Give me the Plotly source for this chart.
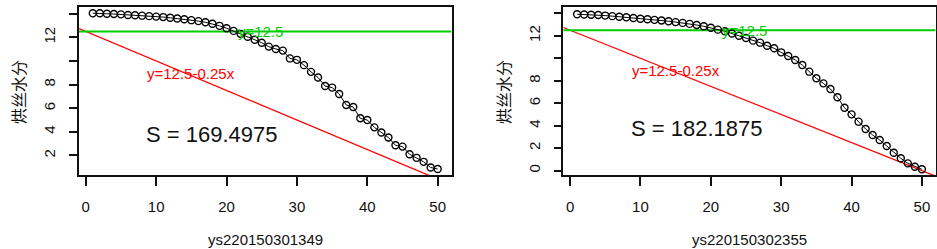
import plotly.graph_objects as go

# ---------------- data ----------------
x_idx = list(range(1, 51))

left_name = "ys220150301349"
left_vals = [14.05, 14.05, 14.0, 13.98, 13.95, 13.9, 13.87, 13.84, 13.8, 13.76,
             13.72, 13.66, 13.6, 13.54, 13.46, 13.38, 13.28, 13.15, 12.98, 12.78,
             12.55, 12.3, 12.05, 11.8, 11.55, 11.22, 11.02, 10.88, 10.22, 10.1,
             9.65, 9.08, 8.6, 7.88, 7.75, 7.21, 6.28, 6.1, 5.15, 5.0,
             4.38, 3.95, 3.52, 2.86, 2.75, 2.1, 1.8, 1.46, 0.98, 0.85]
left_S = "169.4975"

right_name = "ys220150302355"
right_vals = [13.92, 13.9, 13.88, 13.85, 13.8, 13.75, 13.7, 13.65, 13.58, 13.52,
              13.47, 13.42, 13.36, 13.3, 13.22, 13.15, 13.06, 12.96, 12.85, 12.72,
              12.55, 12.4, 12.2, 12.0, 11.8, 11.57, 11.39, 11.12, 10.89, 10.53,
              10.2, 9.85, 9.4, 8.81, 8.22, 7.77, 7.27, 6.53, 5.6, 5.01,
              4.36, 3.71, 3.17, 2.73, 2.19, 1.6, 1.1, 0.65, 0.35, 0.12]
right_S = "182.1875"

h_level = 12.5          # green horizontal line
line_a, line_b = 12.5, -0.25   # red line y = a + b x
y_title = "烘丝水分"
x_ticks = [0, 10, 20, 30, 40, 50]
left_yticks = [2, 4, 6, 8, 10, 12, 14]
left_ytext = ["2", "4", "6", "8", "", "12", ""]
right_yticks = [0, 2, 4, 6, 8, 10, 12, 14]
right_ytext = ["0", "2", "4", "6", "8", "", "12", ""]

# annotation anchor positions (data units)
green_lab = (24.8, 12.5)
red_lab = (15.0, 8.9)
s_lab = (18.0, 3.75)

# ---------------- layout constants ----------------
W, H = 937, 249
FONT = "Liberation Sans, Arial, sans-serif"
CJK = "Noto Sans CJK SC, sans-serif"
GREEN = "#00CD00"
RED = "#FF0000"
INK = "#111"

xr = [-0.96, 51.96]
panels = [
    dict(name=left_name, vals=left_vals, S=left_S, yr=[0.32, 14.6],
         yt=left_yticks, ytt=left_ytext, px=(79, 451.5), py=(6.7, 175.3), ytitle_x=18),
    dict(name=right_name, vals=right_vals, S=right_S, yr=[-0.385, 14.59],
         yt=right_yticks, ytt=right_ytext, px=(563.3, 935.7), py=(6.7, 175.0), ytitle_x=503),
]

fig = go.Figure()
layout = dict(width=W, height=H, margin=dict(l=0, r=0, t=0, b=0),
              paper_bgcolor="white", plot_bgcolor="white", showlegend=False,
              font=dict(family=FONT, size=15, color=INK))
annotations = []

for i, p in enumerate(panels):
    sfx = "" if i == 0 else str(i + 1)
    xa, ya = "x" + sfx, "y" + sfx
    # red abline
    fig.add_trace(go.Scatter(x=xr, y=[line_a + line_b * v for v in xr], mode="lines",
                             line=dict(color=RED, width=1.3), xaxis=xa, yaxis=ya,
                             hoverinfo="skip"))
    # green hline
    fig.add_trace(go.Scatter(x=xr, y=[h_level, h_level], mode="lines",
                             line=dict(color=GREEN, width=2), xaxis=xa, yaxis=ya,
                             hoverinfo="skip"))
    # data
    fig.add_trace(go.Scatter(x=x_idx, y=p["vals"], mode="lines+markers",
                             line=dict(color="black", width=1),
                             marker=dict(symbol="circle-open", size=7, color="black",
                                         line=dict(width=1.4)),
                             xaxis=xa, yaxis=ya))
    x0, x1 = p["px"]
    y0, y1 = p["py"]
    layout["xaxis" + sfx] = dict(domain=[x0 / W, x1 / W], range=xr, anchor=ya,
                                 tickvals=x_ticks, ticks="outside", ticklen=9, tickwidth=1.5,
                                 tickcolor="#111", showline=True, linecolor="#111", linewidth=1.6,
                                 mirror=True, showgrid=False, zeroline=False,
                                 ticklabelstandoff=8, tickfont=dict(size=15, color=INK))
    layout["yaxis" + sfx] = dict(domain=[(H - y1) / H, (H - y0) / H], range=p["yr"], anchor=xa,
                                 tickvals=p["yt"], ticktext=p["ytt"], ticks="outside", ticklen=8,
                                 tickwidth=1.5, tickcolor="#111", showline=True, linecolor="#111",
                                 linewidth=1.6, mirror=True, showgrid=False, zeroline=False,
                                 tickangle=-90, ticklabelstandoff=8,
                                 tickfont=dict(size=15, color=INK))
    # texts
    annotations.append(dict(x=green_lab[0], y=green_lab[1], xref=xa, yref=ya, text="y=12.5",
                            showarrow=False, font=dict(size=15, color=GREEN, family=FONT)))
    annotations.append(dict(x=red_lab[0], y=red_lab[1], xref=xa, yref=ya, text="y=12.5-0.25x",
                            showarrow=False, font=dict(size=15, color=RED, family=FONT)))
    annotations.append(dict(x=s_lab[0], y=s_lab[1], xref=xa, yref=ya, text="S = " + p["S"],
                            showarrow=False, font=dict(size=22, color=INK, family=FONT)))
    # axis titles
    annotations.append(dict(x=(x0 + x1) / 2 / W, y=(H - 239) / H, xref="paper", yref="paper",
                            text=p["name"], showarrow=False, xanchor="center", yanchor="middle",
                            font=dict(size=15, color=INK, family=FONT)))
    annotations.append(dict(x=p["ytitle_x"] / W, y=(H - 92) / H, xref="paper", yref="paper",
                            text=y_title, textangle=-90, showarrow=False, xanchor="center",
                            yanchor="middle", font=dict(size=16, color=INK, family=CJK)))

layout["annotations"] = annotations
fig.update_layout(**layout)
fig.write_html("out.html", config={"displayModeBar": False},
               post_script="document.body.style.margin='0';document.body.style.overflow='hidden';")
